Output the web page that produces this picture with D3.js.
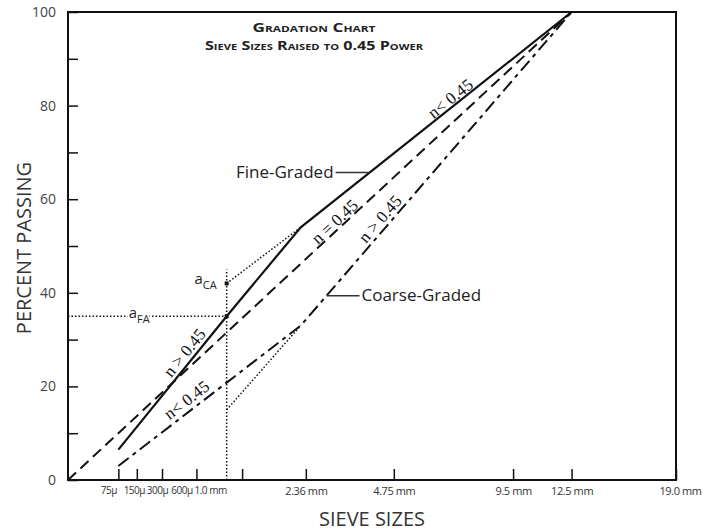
<!DOCTYPE html>
<html>
<head>
<meta charset="utf-8">
<script src="https://cdn.jsdelivr.net/npm/d3@7"></script>
<style>
  body { margin: 0; background: #fff; }
  svg { display: block; font-family: "Open Sans", sans-serif; }
</style>
</head>
<body>
<svg id="chart" width="703" height="531"></svg>
<script>
// sieve sizes (mm) on the x axis and their printed labels
const sieveMM = [0.075, 0.15, 0.3, 0.6, 1.18, 2.36, 4.75, 9.5, 12.5, 19.0];
const sieveLabels = ["75μ", "150μ", "300μ", "600μ", "1.0 mm", "2.36 mm", "4.75 mm", "9.5 mm", "12.5 mm", "19.0 mm"];
const pctTicks = [0, 10, 20, 30, 40, 50, 60, 70, 80, 90, 100];
const pctLabels = [0, 20, 40, 60, 80, 100];

// gradation lines
const maxDensitySize = [0, 12.5];
const maxDensityPct = [0, 100];
const fineSize = [0.075, 0.96, 2.25, 12.5];
const finePct = [6.5, 35, 54, 100];
const coarseSize = [0.075, 2.25, 12.5];
const coarsePct = [3, 33, 100];

// control sieve construction (dotted)
const controlSize = 0.96;
const aFAPct = 35;
const aCAPct = 42;
const coarseExtPct = 15;
const controlTopPct = 45;

const margin = {top: 12, right: 27, bottom: 51, left: 68};
const width = 703, height = 531;

const svg = d3.select("#chart");

const x = d3.scalePow().exponent(0.45)
    .domain([0, 19.0])
    .range([margin.left, width - margin.right]);

const y = d3.scaleLinear()
    .domain([0, 100])
    .range([height - margin.bottom, margin.top]);

const line = d3.line().x(d => x(d[0])).y(d => y(d[1]));
const pairs = (a, b) => a.map((v, i) => [v, b[i]]);

// x axis, ticks pointing into the plot; the small sieve labels are crowded to the left
const labelNudge = [-10, -3, -5, -15, -32, 0, 0, 0, 0, 4];
const gx = svg.append("g")
    .attr("transform", `translate(0,${y(0)})`)
    .call(d3.axisBottom(x).tickValues(sieveMM)
        .tickFormat((d, i) => sieveLabels[i])
        .tickSize(-11).tickPadding(7));
gx.select(".domain").remove();
gx.selectAll(".tick line").attr("stroke", "#111").attr("stroke-width", 1.5);
gx.selectAll(".tick text")
    .attr("dx", (d, i) => labelNudge[i])
    .attr("font-family", "Open Sans")
    .attr("font-size", (d, i) => i < 5 ? 10 : 11)
    .attr("letter-spacing", (d, i) => i < 5 ? -0.5 : -0.4)
    .attr("fill", "#333");

// y axis
const gy = svg.append("g")
    .attr("transform", `translate(${x(0)},0)`)
    .call(d3.axisLeft(y).tickValues(pctTicks)
        .tickFormat(d => pctLabels.includes(d) ? d : "")
        .tickSize(-10).tickPadding(12));
gy.select(".domain").remove();
gy.selectAll(".tick line").attr("stroke", "#111").attr("stroke-width", 1.5);
gy.selectAll(".tick text")
    .attr("font-family", "Open Sans")
    .attr("font-size", 14)
    .attr("fill", "#444");

// frame
svg.append("rect")
    .attr("x", x(0)).attr("y", y(100))
    .attr("width", x(19) - x(0)).attr("height", y(0) - y(100))
    .attr("fill", "none").attr("stroke", "#111").attr("stroke-width", 2);

// axis titles
svg.append("text")
    .attr("transform", `translate(31,${(y(0) + y(100)) / 2 + 2}) rotate(-90)`)
    .attr("text-anchor", "middle")
    .attr("font-size", 20)
    .attr("fill", "#333")
    .text("PERCENT PASSING");

svg.append("text")
    .attr("x", (x(0) + x(19)) / 2)
    .attr("y", 526)
    .attr("text-anchor", "middle")
    .attr("font-size", 20)
    .attr("fill", "#333")
    .text("SIEVE SIZES");

// chart title, small caps
const titles = [["Gradation Chart", 32, 123], ["Sieve Sizes Raised to 0.45 Power", 50, 218]];
titles.forEach(([t, ty, tw]) => {
    svg.append("text")
        .attr("x", 314 - tw / 2).attr("y", ty)
        .attr("textLength", tw).attr("lengthAdjust", "spacingAndGlyphs")
        .attr("font-size", 13)
        .attr("font-weight", 700)
        .attr("font-variant", "small-caps")
        .attr("fill", "#222")
        .text(t);
});

// dotted construction lines
const dotted = [
    [[0, aFAPct], [controlSize, aFAPct]],
    [[controlSize, 0], [controlSize, controlTopPct]],
    [[controlSize, aCAPct], [fineSize[2], finePct[2]]],
    [[controlSize, coarseExtPct], [coarseSize[1], coarsePct[1]]]
];
svg.append("g").selectAll("path")
    .data(dotted)
    .join("path")
    .attr("d", line)
    .attr("fill", "none")
    .attr("stroke", "#111")
    .attr("stroke-width", 1.5)
    .attr("stroke-dasharray", "1.5,2");

// gradation curves
svg.append("path")
    .attr("d", line(pairs(maxDensitySize, maxDensityPct)))
    .attr("fill", "none").attr("stroke", "#111").attr("stroke-width", 2)
    .attr("stroke-dasharray", "11,6");

svg.append("path")
    .attr("d", line(pairs(coarseSize, coarsePct)))
    .attr("fill", "none").attr("stroke", "#111").attr("stroke-width", 2)
    .attr("stroke-dasharray", "13,5,4,5");

svg.append("path")
    .attr("d", line(pairs(fineSize, finePct)))
    .attr("fill", "none").attr("stroke", "#111").attr("stroke-width", 2.2);

// control points
svg.append("g").selectAll("rect")
    .data([aFAPct, aCAPct])
    .join("rect")
    .attr("x", x(controlSize) - 2).attr("y", d => y(d) - 2)
    .attr("width", 4).attr("height", 4)
    .attr("fill", "#111");

// a_FA and a_CA labels (knock out the dotted line behind them)
function subLabel(px, py, main, sub) {
    const t = svg.append("text")
        .attr("x", px).attr("y", py)
        .attr("text-anchor", "end")
        .attr("font-size", 15)
        .attr("fill", "#222")
        .attr("stroke", "#fff").attr("stroke-width", 4)
        .attr("paint-order", "stroke");
    t.append("tspan").text(main);
    t.append("tspan").attr("dy", 5).attr("font-size", 11).text(sub);
}
subLabel(x(controlSize) - 77, y(aFAPct) + 2, "a", "FA");
subLabel(x(controlSize) - 10, y(aCAPct) + 1, "a", "CA");

// n labels along the line segments
function alongLabel(sizes, pcts, seg, t, text, off) {
    const x0 = x(sizes[seg]), y0 = y(pcts[seg]);
    const x1 = x(sizes[seg + 1]), y1 = y(pcts[seg + 1]);
    const px = x0 + (x1 - x0) * t, py = y0 + (y1 - y0) * t;
    const ang = Math.atan2(y1 - y0, x1 - x0) * 180 / Math.PI;
    svg.append("text")
        .attr("transform", `translate(${px},${py}) rotate(${ang})`)
        .attr("text-anchor", "middle")
        .attr("dy", off)
        .attr("font-family", "Liberation Serif")
        .attr("font-size", 17)
        .attr("fill", "#111")
        .text(text);
}
alongLabel(fineSize, finePct, 2, 0.57, "n< 0.45", -2);
alongLabel(maxDensitySize, maxDensityPct, 0, 0.54, "n = 0.45", -2);
alongLabel(coarseSize, coarsePct, 1, 0.32, "n > 0.45", -4);
alongLabel(fineSize, finePct, 0, 0.68, "n > 0.45", -4);
alongLabel(coarseSize, coarsePct, 0, 0.41, "n< 0.45", -5);

// leader labels for the two curves
function pointOn(sizes, pcts, s) {
    const i = d3.bisectRight(sizes, s) - 1;
    const x0 = x(sizes[i]), x1 = x(sizes[i + 1]);
    const t = (x(s) - x0) / (x1 - x0);
    return [x(s), y(pcts[i]) + (y(pcts[i + 1]) - y(pcts[i])) * t];
}
function leader(p, len, text) {
    const [px, py] = p;
    const x2 = px + len;
    svg.append("line")
        .attr("x1", px).attr("y1", py).attr("x2", x2).attr("y2", py)
        .attr("stroke", "#333").attr("stroke-width", 1.5);
    svg.append("text")
        .attr("x", x2 + (len < 0 ? -2 : 2)).attr("y", py + 5)
        .attr("text-anchor", len < 0 ? "end" : "start")
        .attr("font-size", 17)
        .attr("fill", "#222")
        .text(text);
}
leader(pointOn(fineSize, finePct, 4.0), -34, "Fine-Graded");
leader(pointOn(coarseSize, coarsePct, 2.84), 33, "Coarse-Graded");
</script>
</body>
</html>
